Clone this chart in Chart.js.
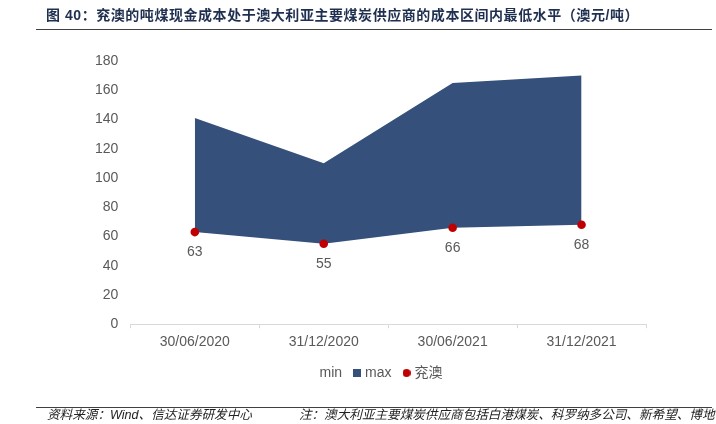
<!DOCTYPE html>
<html><head><meta charset="utf-8">
<script src="https://cdn.jsdelivr.net/npm/chart.js@4"></script>
<style>
html,body{margin:0;padding:0;background:#fff;width:716px;height:424px;overflow:hidden;}
#title{position:absolute;left:46px;top:6px;font-family:"Liberation Sans","Noto Sans CJK SC",sans-serif;font-weight:bold;font-size:14px;letter-spacing:0.55px;color:#1F2F4F;white-space:nowrap;line-height:18px;}
#tline{position:absolute;left:36px;width:676px;top:29px;height:1px;background:#404040;}
#bline{position:absolute;left:36px;width:676px;top:407px;height:1px;background:#404040;}
#foot{position:absolute;left:47px;top:407px;font-family:"Liberation Sans","Noto Sans CJK SC",sans-serif;font-style:italic;font-size:12.6px;color:#222;white-space:nowrap;line-height:17px;}
#foot span{margin-left:47px;}
canvas{position:absolute;left:0;top:0;}
</style></head><body>
<canvas id="c" width="716" height="424"></canvas>
<div id="title">图 40：兖澳的吨煤现金成本处于澳大利亚主要煤炭供应商的成本区间内最低水平（澳元/吨）</div>
<div id="tline"></div>
<div id="bline"></div>
<div id="foot">资料来源：Wind、信达证券研发中心<span>注：澳大利亚主要煤炭供应商包括白港煤炭、科罗纳多公司、新希望、博地</span></div>
<script>
const categories = ["30/06/2020","31/12/2020","30/06/2021","31/12/2021"];
const minValues = [63,55,66,68];
const maxValues = [141,110,165,170];
const yanaoValues = [63,55,66,68];
const yTicks = [0,20,40,60,80,100,120,140,160,180];

const NAVY = "#34507B", RED = "#C00000", GRAY = "#595959";
const FONT = "'Liberation Sans','Noto Sans CJK SC',sans-serif";

function makeIcon(kind,color){
  const c = document.createElement('canvas');
  c.width = 8; c.height = 8;
  const g = c.getContext('2d');
  g.fillStyle = color;
  if(kind==='rect'){ g.fillRect(0,0,8,8); }
  else if(kind==='circle'){ g.beginPath(); g.arc(4,4,4,0,Math.PI*2); g.fill(); }
  return c;
}
const iconNone = makeIcon('none','rgba(0,0,0,0)');
const iconMax = makeIcon('rect',NAVY);
const iconDot = makeIcon('circle',RED);

const labelPlugin = {
  id:'valLabels',
  afterLayout(chart){
    if(chart.legend){ chart.legend.left += 12; chart.legend.right += 12; }
  },
  afterDatasetsDraw(chart){
    const meta = chart.getDatasetMeta(2);
    const ctx = chart.ctx;
    ctx.save();
    ctx.font = "14px " + FONT;
    ctx.fillStyle = GRAY;
    ctx.textAlign = "center";
    ctx.textBaseline = "middle";
    meta.data.forEach((p,i)=>{
      ctx.fillText(String(yanaoValues[i]), p.x, p.y + 20);
    });
    ctx.restore();
  }
};

new Chart(document.getElementById('c'),{
  type:'line',
  data:{
    labels:categories,
    datasets:[
      {label:'min',data:minValues,borderWidth:0,borderColor:'rgba(0,0,0,0)',pointRadius:0,fill:false,tension:0,order:3},
      {label:'max',data:maxValues,borderWidth:0,borderColor:'rgba(0,0,0,0)',backgroundColor:NAVY,pointRadius:0,fill:'-1',tension:0,order:2},
      {label:'兖澳',data:yanaoValues,showLine:false,pointRadius:4.3,pointBorderWidth:0,pointBackgroundColor:RED,pointBorderColor:RED,borderColor:RED,backgroundColor:RED,order:1}
    ]
  },
  options:{
    responsive:false,
    animation:false,
    layout:{padding:{left:83,right:70,top:61,bottom:34}},
    plugins:{
      tooltip:{enabled:false},
      legend:{
        position:'bottom',
        labels:{
          usePointStyle:true,
          font:{size:14,family:FONT},
          color:GRAY,
          padding:14,
          boxWidth:2,boxHeight:8,
          generateLabels(chart){
            return [
              {text:'min',pointStyle:iconNone,datasetIndex:0,fontColor:GRAY,lineWidth:0},
              {text:'max',pointStyle:iconMax,datasetIndex:1,fontColor:GRAY,lineWidth:0},
              {text:'兖澳',pointStyle:iconDot,datasetIndex:2,fontColor:GRAY,lineWidth:0}
            ];
          }
        }
      }
    },
    scales:{
      x:{
        offset:true,
        grid:{display:true,offset:true,drawOnChartArea:false,drawTicks:true,tickLength:4,color:'#D9D9D9'},
        border:{display:true,color:'#D9D9D9',width:1},
        ticks:{font:{size:14,family:FONT},color:GRAY,padding:6},
        afterFit(axis){ axis.height -= 5; }
      },
      y:{
        min:0,max:180,
        afterBuildTicks(axis){axis.ticks = yTicks.map(v=>({value:v}));},
        grid:{display:false,drawTicks:false},
        border:{display:false},
        ticks:{font:{size:14,family:FONT},color:GRAY,padding:12}
      }
    }
  },
  plugins:[labelPlugin]
});
</script>
</body></html>
